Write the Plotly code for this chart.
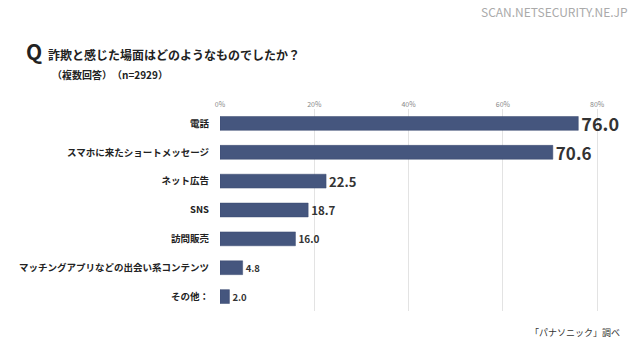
import plotly.graph_objects as go

categories = ["電話", "スマホに来たショートメッセージ", "ネット広告", "SNS", "訪問販売",
              "マッチングアプリなどの出会い系コンテンツ", "その他："]
values = [76.0, 70.6, 22.5, 18.7, 16.0, 4.8, 2.0]
label_sizes = [18, 17, 13, 11.5, 10, 9.5, 9.5]
tick_vals = [0, 20, 40, 60, 80]
tick_text = ["0%", "20%", "40%", "60%", "80%"]

JP = "Noto Sans CJK JP"

fig = go.Figure(go.Bar(
    x=values, y=categories, orientation="h",
    marker=dict(color="#45567e", line=dict(color="#3a4a70", width=0.5)),
    width=0.48,
    text=[f"{v:.1f}" for v in values],
    textposition="outside",
    constraintext="none",
    textfont=dict(size=label_sizes, color="#333333", family=JP, weight="bold"),
    cliponaxis=False,
))

fig.update_layout(
    width=640, height=357,
    margin=dict(l=220, r=24, t=108.5, b=45.5),
    paper_bgcolor="white", plot_bgcolor="white",
    showlegend=False,
    font=dict(family=JP),
    xaxis=dict(range=[0, 84], side="top", tickvals=tick_vals, ticktext=tick_text,
               tickfont=dict(size=7, color="#888888"), showgrid=True,
               gridcolor="#e3e3e3", gridwidth=1, zeroline=False, showline=False,
               ticklen=0, ticks="", automargin=False),
    yaxis=dict(autorange="reversed", tickfont=dict(size=9.5, color="#222222", weight="bold"),
               showgrid=False, zeroline=False, showline=False, ticks="", ticklen=0,
               ticklabelstandoff=10, automargin=False),
)

def px_ann(text, x, y, size, color="#222222", weight="bold", xanchor="left"):
    pw = 640 - 220 - 24
    ph = 357 - 108.5 - 45.5
    fig.add_annotation(text=text, x=(x - 220) / pw, y=(357 - 45.5 - y) / ph,
                       xref="paper", yref="paper", showarrow=False,
                       xanchor=xanchor, yanchor="middle",
                       font=dict(size=size, color=color, family=JP, weight=weight))

px_ann("Q", 24, 50, 21, weight="bold")
px_ann("詐欺と感じた場面はどのようなものでしたか？", 46, 54, 12)
px_ann("（複数回答）　（n=2929）", 50, 74, 10)
px_ann("SCAN.NETSECURITY.NE.JP", 630, 11, 12, color="#aaaaaa", weight="normal", xanchor="right")
px_ann("「パナソニック」調べ", 622, 333, 9, color="#333333", weight="normal", xanchor="right")

fig.write_html("out.html", config={"displayModeBar": False},
               post_script="document.body.style.margin='0';document.body.style.overflow='hidden';")
